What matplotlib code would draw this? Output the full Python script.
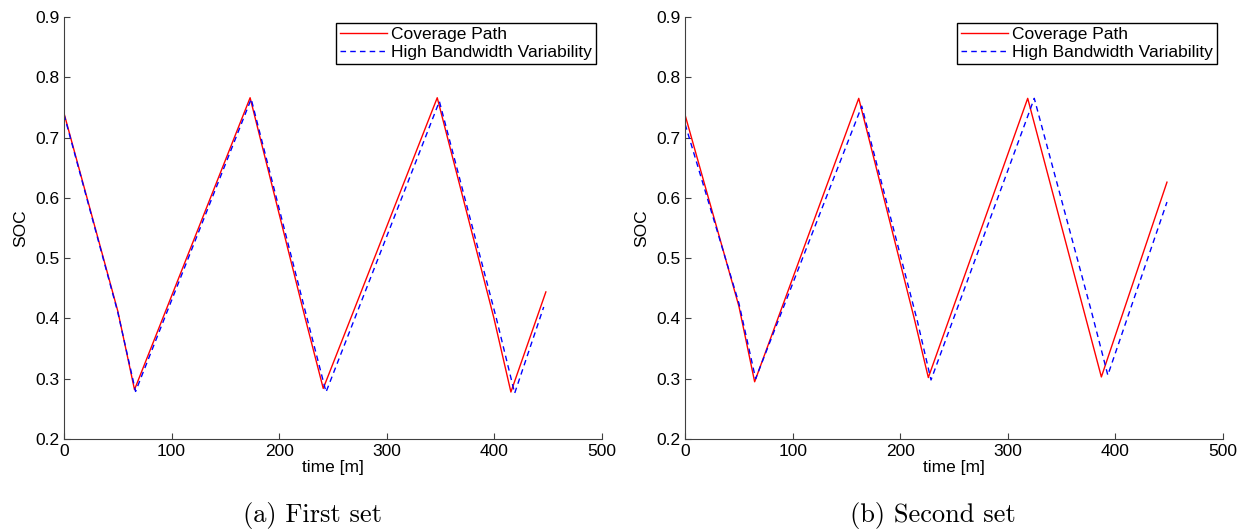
import matplotlib.pyplot as plt

# first set
t1_cov = [0, 50, 65.5, 173, 224, 241, 347, 399.5, 415.5, 448]
soc1_cov = [0.740, 0.412, 0.282, 0.766, 0.402, 0.284, 0.766, 0.402, 0.278, 0.444]
t1_hbv = [0, 50, 66.5, 174, 226, 243.6, 349, 402, 419, 446]
soc1_hbv = [0.738, 0.410, 0.279, 0.764, 0.400, 0.278, 0.760, 0.400, 0.276, 0.419]

# second set
t2_cov = [0, 50, 64.6, 161.4, 213, 226.1, 318.5, 372, 387, 448]
soc2_cov = [0.737, 0.420, 0.295, 0.765, 0.400, 0.302, 0.765, 0.404, 0.303, 0.626]
t2_hbv = [0, 50, 65.5, 164.2, 216, 228.6, 324.6, 378, 393, 448]
soc2_hbv = [0.722, 0.425, 0.300, 0.752, 0.395, 0.298, 0.765, 0.410, 0.306, 0.593]

captions = ['(a) First set', '(b) Second set']
sets = [(t1_cov, soc1_cov, t1_hbv, soc1_hbv), (t2_cov, soc2_cov, t2_hbv, soc2_hbv)]

plt.rcParams['font.family'] = ['Liberation Sans', 'DejaVu Sans']

fig = plt.figure(figsize=(12.39, 5.29), dpi=100)
lefts = [0.0517, 0.553]
cap_x = [0.2522, 0.7533]

for i, (tc, sc, th, sh) in enumerate(sets):
    ax = fig.add_axes([lefts[i], 0.170, 0.434, 0.798])
    ax.plot(tc, sc, color='red', lw=1.0, label='Coverage Path')
    ax.plot(th, sh, color='blue', lw=1.0, ls=(0, (4, 3)), label='High Bandwidth Variability')
    ax.set_xlim(0, 500)
    ax.set_ylim(0.2, 0.9)
    ax.set_xticks([0, 100, 200, 300, 400, 500])
    ax.set_yticks([0.2, 0.3, 0.4, 0.5, 0.6, 0.7, 0.8, 0.9])
    ax.spines['top'].set_visible(False)
    ax.spines['right'].set_visible(False)
    for s in ['left', 'bottom']:
        ax.spines[s].set_color('#404040')
    ax.tick_params(direction='in', length=4, labelsize=12.5, colors='#404040', labelcolor='black')
    ax.set_xlabel('time [m]', fontsize=12.5, labelpad=1)
    ax.set_ylabel('SOC', fontsize=12.5, labelpad=5)
    leg = ax.legend(loc='upper right', bbox_to_anchor=(0.989, 0.986), fontsize=12.5,
                    frameon=True, fancybox=False, edgecolor='black', framealpha=1,
                    handlelength=2.7, handletextpad=0.2, borderpad=0.25, labelspacing=0.15,
                    borderaxespad=0)
    leg.get_frame().set_linewidth(1.0)
    fig.text(cap_x[i], 0.026, captions[i], ha='center', va='center',
             fontsize=19, family='cmr10')

fig.savefig('out.png', dpi=100)
